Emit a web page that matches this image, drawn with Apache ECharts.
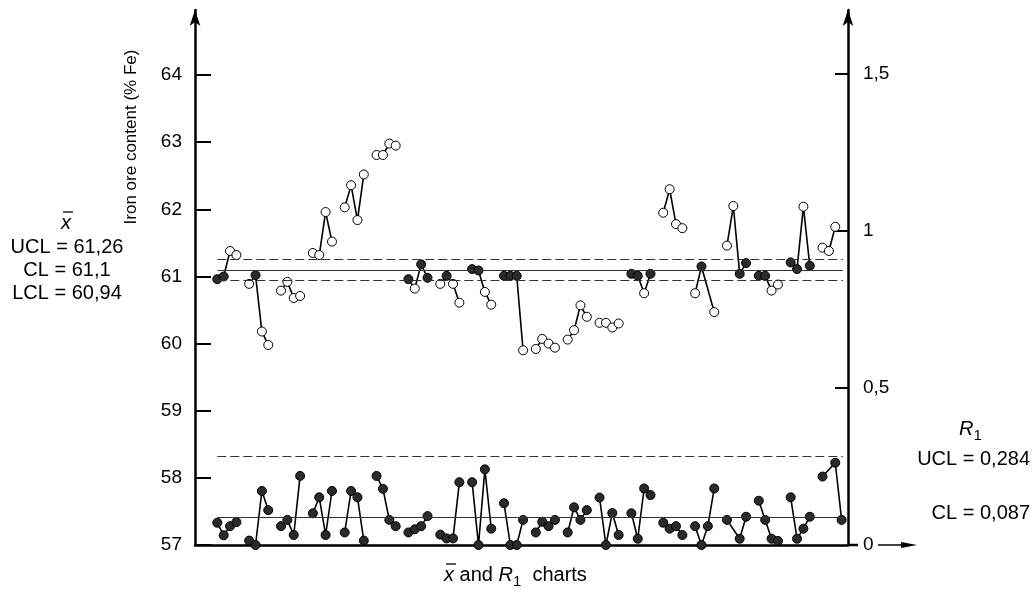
<!DOCTYPE html>
<html>
<head>
<meta charset="utf-8">
<script src="https://cdn.jsdelivr.net/npm/echarts@6/dist/echarts.min.js"></script>
<style>
html, body { margin: 0; padding: 0; background: #fff; }
#chart { width: 1035px; height: 596px; }
</style>
</head>
<body>
<div id="chart"></div>
<script>
// x-bar values, 20 groups of 4 samples (null = no point)
const xbarValues = [
  60.96, 61.00, 61.38, 61.32,
  60.89, 61.02, 60.18, 59.98,
  60.79, 60.92, 60.68, 60.71,
  61.35, 61.32, 61.96, 61.52,
  62.03, 62.36, 61.84, 62.52,
  62.81, 62.81, 62.98, 62.95,
  60.96, 60.82, 61.18, 60.98,
  60.89, 61.01, 60.89, 60.61,
  61.11, 61.09, 60.77, 60.58,
  61.01, 61.01, 61.01, 59.90,
  59.92, 60.07, 60.00, 59.94,
  60.06, 60.20, 60.57, 60.40,
  60.31, 60.31, 60.24, 60.30,
  61.04, 61.01, 60.75, 61.04,
  61.95, 62.30, 61.78, 61.72,
  60.75, 61.15, null, 60.47,
  61.46, 62.05, 61.04, 61.20,
  61.01, 61.01, 60.79, 60.88,
  61.21, 61.11, 62.04, 61.16,
  61.43, 61.38, 61.74, null
];
// R1 values, same groups
const rangeValues = [
  0.071, 0.031, 0.060, 0.073,
  0.014, 0.000, 0.172, 0.111,
  0.060, 0.080, 0.032, 0.220,
  0.101, 0.152, 0.032, 0.172,
  0.040, 0.172, 0.152, 0.014,
  0.220, 0.179, 0.080, 0.060,
  0.040, 0.050, 0.060, 0.092,
  0.033, 0.021, 0.021, 0.200,
  0.200, 0.000, 0.241, 0.052,
  0.133, 0.000, 0.000, 0.080,
  0.040, 0.074, 0.060, 0.080,
  0.040, 0.120, 0.080, 0.111,
  0.151, 0.000, 0.102, 0.032,
  0.101, 0.020, 0.180, 0.159,
  0.071, 0.052, 0.060, 0.032,
  0.060, 0.000, 0.060, 0.180,
  0.080, null, 0.020, 0.090,
  0.141, 0.080, 0.020, 0.013,
  0.152, 0.020, 0.052, 0.090,
  0.218, null, 0.262, 0.080
];
const groupSize = 4;
const xbarLimits = [61.26, 61.1, 60.94];   // UCL, CL, LCL
const rangeLimits = [0.284, 0.087];        // UCL, CL
const leftTicks = [57, 58, 59, 60, 61, 62, 63, 64];
const rightTicks = [0, 0.5, 1, 1.5];

const FONT = '"Liberation Sans", Arial, sans-serif';
const lastSlot = 98.2;

// groups of 4 with an empty slot between them, '-' breaks the line
function toSlots(values, styleFn) {
  const out = [];
  values.forEach((v, k) => {
    const g = Math.floor(k / groupSize), i = k % groupSize;
    const slot = g * (groupSize + 1) + i;
    if (v !== null) out.push({ value: [slot, v], itemStyle: styleFn(v) });
    if (i === groupSize - 1) out.push([slot + 1, '-']);
  });
  return out;
}
const inBand = v => v >= xbarLimits[2] && v <= xbarLimits[0];
const xbarData = toSlots(xbarValues, v => ({
  color: inBand(v) ? '#2a2a2a' : '#fff', borderColor: '#000', borderWidth: 1
}));
const rangeData = toSlots(rangeValues, () => ({
  color: '#2a2a2a', borderColor: '#000', borderWidth: 1
}));

const dashed = { color: '#333', width: 1.2, type: [9, 4] };
const solid = { color: '#333', width: 1.2, type: 'solid' };
const hline = (y, style) => [{ coord: [0, y], lineStyle: style }, { coord: [lastSlot, y] }];

// text layout helper for the composed labels
const ctx = document.createElement('canvas').getContext('2d');
const textW = (s, font) => { ctx.font = font; return ctx.measureText(s).width; };

function composed(pieces, left, cy) {
  const els = [];
  let x = left;
  pieces.forEach(p => {
    const w = textW(p.t, p.font);
    els.push({ type: 'text', x: x, y: cy + (p.dy || 0),
      style: { text: p.t, font: p.font, fill: '#000', textAlign: 'left', textVerticalAlign: 'middle' } });
    if (p.bar) {
      els.push({ type: 'line', shape: { x1: x + 2, y1: cy - 11, x2: x + w + 2, y2: cy - 11 },
        style: { stroke: '#000', lineWidth: 1.3 } });
    }
    x += w;
  });
  return els;
}

const big = '20px ' + FONT;
const bigI = 'italic 20px ' + FONT;
const sub = '15px ' + FONT;
const centered = (x, y, text) => ({ type: 'text', x, y,
  style: { text, font: big, fill: '#000', textAlign: 'center', textVerticalAlign: 'middle' } });
const righted = (x, y, text) => ({ type: 'text', x, y,
  style: { text, font: big, fill: '#000', textAlign: 'right', textVerticalAlign: 'middle' } });

const graphics = [
  { type: 'text', x: 131, y: 137, rotation: Math.PI / 2,
    style: { text: 'Iron ore content (% Fe)', font: '17px ' + FONT, fill: '#000', textAlign: 'center', textVerticalAlign: 'middle' } },
  ...composed([{ t: 'x', font: bigI, bar: true }], 61, 223),
  centered(67, 247, 'UCL = 61,26'),
  centered(67, 270, 'CL = 61,1'),
  centered(67, 293, 'LCL = 60,94'),
  ...composed([{ t: 'R', font: bigI }, { t: '1', font: sub, dy: 7 }], 959, 429),
  righted(1030, 459, 'UCL = 0,284'),
  righted(1030, 513, 'CL = 0,087'),
  ...composed([
    { t: 'x', font: bigI, bar: true }, { t: ' and ', font: big },
    { t: 'R', font: bigI }, { t: '1', font: sub, dy: 7 }, { t: '  charts', font: big }
  ], 444, 575),
  { type: 'line', shape: { x1: 848, y1: 545, x2: 858, y2: 545 }, style: { stroke: '#000', lineWidth: 2.5 } },
  { type: 'line', shape: { x1: 878, y1: 545, x2: 905, y2: 545 }, style: { stroke: '#000', lineWidth: 1.5 } },
  { type: 'polygon', shape: { points: [[901, 542], [917, 545], [901, 548]] }, style: { fill: '#000' } }
];

const chart = echarts.init(document.getElementById('chart'));
chart.setOption({
  animation: false,
  backgroundColor: '#fff',
  grid: { left: 195, right: 187, top: 10, bottom: 51 },
  xAxis: {
    type: 'value', min: -3.5, max: 99,
    axisLine: { onZero: false, lineStyle: { color: '#000', width: 2.5 } },
    axisTick: { show: false }, axisLabel: { show: false }, splitLine: { show: false }
  },
  yAxis: [
    {
      type: 'value', min: 57, max: 64.97, position: 'left',
      axisLine: { show: true, onZero: false, symbol: ['none', 'arrow'], symbolSize: [8, 16],
        lineStyle: { color: '#000', width: 2.5 } },
      axisTick: { show: true, inside: true, length: 16, customValues: leftTicks,
        lineStyle: { color: '#000', width: 2 } },
      axisLabel: { customValues: leftTicks, color: '#000', fontSize: 19, fontFamily: FONT, margin: 13 },
      splitLine: { show: false }
    },
    {
      type: 'value', min: 0, max: 1.704, position: 'right',
      axisLine: { show: true, onZero: false, symbol: ['none', 'arrow'], symbolSize: [8, 16],
        lineStyle: { color: '#000', width: 2.5 } },
      axisTick: { show: true, inside: true, length: 13, customValues: rightTicks.slice(1),
        lineStyle: { color: '#000', width: 2 } },
      axisLabel: { customValues: rightTicks, color: '#000', fontSize: 19, fontFamily: FONT, margin: 15,
        formatter: v => String(v).replace('.', ',') },
      splitLine: { show: false }
    }
  ],
  series: [
    {
      name: 'xbar', type: 'line', yAxisIndex: 0, data: xbarData,
      symbol: 'circle', symbolSize: 9, showAllSymbol: true, connectNulls: false,
      lineStyle: { color: '#000', width: 1.6 },
      markLine: {
        silent: true, symbol: 'none', label: { show: false }, animation: false,
        data: [hline(xbarLimits[0], dashed), hline(xbarLimits[1], solid), hline(xbarLimits[2], dashed)]
      },
      z: 3
    },
    {
      name: 'R1', type: 'line', yAxisIndex: 1, data: rangeData,
      symbol: 'circle', symbolSize: 9, showAllSymbol: true, connectNulls: false,
      lineStyle: { color: '#000', width: 1.6 },
      markLine: {
        silent: true, symbol: 'none', label: { show: false }, animation: false,
        data: [hline(rangeLimits[0], dashed), hline(rangeLimits[1], solid)]
      },
      z: 3
    }
  ],
  graphic: { elements: graphics }
});
window.addEventListener('resize', () => chart.resize());
</script>
</body>
</html>
